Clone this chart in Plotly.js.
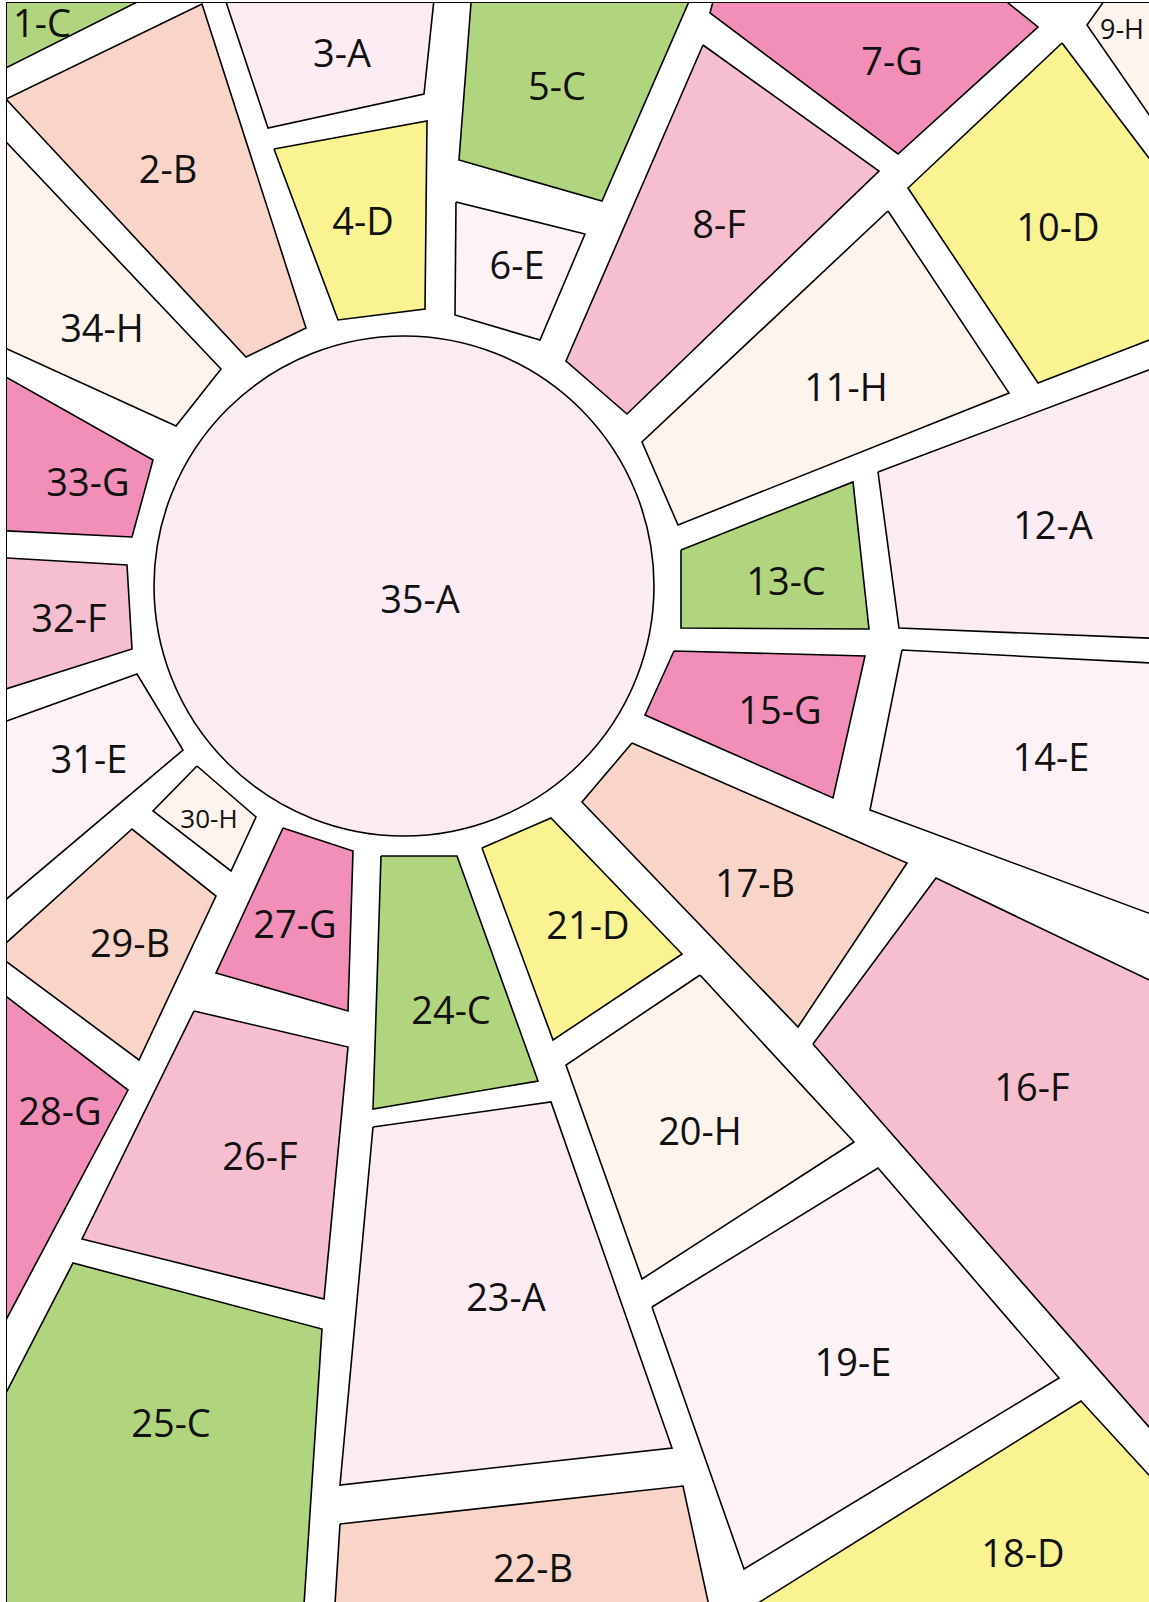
<!DOCTYPE html>
<html>
<head>
<meta charset="utf-8">
<script src="https://cdn.plot.ly/plotly-3.0.1.min.js"></script>
<style>html,body{margin:0;padding:0;background:#fff;}#chart{width:1149px;height:1602px;}</style>
</head>
<body>
<div id="chart"></div>
<script>
// ---- data ----
const regionLabels = ['1-C','2-B','3-A','4-D','5-C','6-E','7-G','8-F','9-H','10-D','11-H','12-A','13-C','14-E','15-G','16-F','17-B','18-D','19-E','20-H','21-D','22-B','23-A','24-C','25-C','26-F','27-G','28-G','29-B','30-H','31-E','32-F','33-G','34-H'];
const regionGroups = ['C','B','A','D','C','E','G','F','H','D','H','A','C','E','G','F','B','D','E','H','D','B','A','C','C','F','G','G','B','H','E','F','G','H'];
const polyX = [
  [-10,161,-10],
  [6,202,306,246],
  [222,435,424,268],
  [274,427,425,338],
  [472,694,602,459],
  [456,585,540,455],
  [716,710,898,1038,992],
  [703,879,627,566],
  [1112,1087,1170,1170],
  [1062,1170,1170,1038,908],
  [888,1009,678,642],
  [878,1170,1170,899],
  [681,853,869,681],
  [902,1170,1170,870],
  [674,865,833,645],
  [813,936,1170,1170],
  [632,907,798,582],
  [731,1081,1170,1170],
  [652,878,1059,744],
  [700,854,642,566],
  [482,551,682,553],
  [340,683,712,334],
  [373,551,672,340],
  [381,457,538,373],
  [-10,73,322,303,-10],
  [194,348,324,82],
  [283,353,348,216],
  [-10,128,-10],
  [-5,132,216,139],
  [197,256,231,153],
  [-10,137,183,-10],
  [-10,127,132,-10],
  [-10,153,132,-10],
  [-10,221,176,-10]
];
const polyY = [
  [-10,-10,76],
  [99,4,328,357],
  [-10,-10,94,128],
  [149,121,309,320],
  [-10,-10,201,160],
  [202,234,340,315],
  [-10,13,154,27,-10],
  [45,171,414,361],
  [-10,25,145,-10],
  [43,186,332,383,188],
  [211,393,525,442],
  [472,362,639,628],
  [550,482,629,628],
  [650,664,921,810],
  [651,656,798,715],
  [1044,878,990,1451],
  [743,863,1027,802],
  [1620,1401,1498,1620],
  [1307,1168,1378,1569],
  [975,1142,1279,1065],
  [848,818,954,1040],
  [1524,1486,1620,1620],
  [1127,1102,1448,1485],
  [856,856,1081,1109],
  [1424,1263,1329,1620,1620],
  [1011,1047,1299,1239],
  [828,851,1011,973],
  [984,1090,1350],
  [953,829,896,1060],
  [766,817,871,811],
  [727,674,750,913],
  [557,565,649,694],
  [368,460,537,530],
  [125,369,426,341]
];
const labelX = [42,168,342,363,557,517,892,719,1122,1058,846,1053,786,1051,780,1032,755,1023,853,700,588,533,506,451,171,260,295,60,130,209,89,69,88,102];
const labelY = [27,173,57,225,90,269,65,228,32,231,391,529,585,761,714,1091,887,1557,1366,1135,929,1572,1301,1014,1427,1160,928,1115,947,821,763,622,486,332];

const circleLabel = '35-A';
const circleGroup = 'A';
const circleCenterX = 404;
const circleCenterY = 586;
const circleRadius = 250;
const circleLabelX = 420;
const circleLabelY = 603;

// ---- styles ----
const groupColors = {
  A:'#FBEBF2', B:'#F9D4C8', C:'#B1D57F', D:'#F9F392',
  E:'#FDF2F6', F:'#F6BFCF', G:'#F18FB9', H:'#FEF4EE'
};
const smallLabels = {'30-H':26, '9-H':27};
const baseFontSize = 38;

const traces = [];
for (let i = 0; i < regionLabels.length; i++) {
  const xs = polyX[i].concat([polyX[i][0]]);
  const ys = polyY[i].concat([polyY[i][0]]);
  traces.push({
    type:'scatter', mode:'lines', x: xs, y: ys,
    fill:'toself', fillcolor: groupColors[regionGroups[i]],
    line:{color:'#000', width:1.6},
    hoverinfo:'skip', showlegend:false
  });
}
const allLabels = regionLabels.concat([circleLabel]);
traces.push({
  type:'scatter', mode:'text',
  x: labelX.concat([circleLabelX]),
  y: labelY.concat([circleLabelY]),
  text: allLabels,
  textposition:'middle center',
  textfont:{
    family:'"Open Sans", "Noto Sans", sans-serif',
    color:'#111',
    size: allLabels.map(l => smallLabels[l] || baseFontSize)
  },
  hoverinfo:'skip', showlegend:false, cliponaxis:false
});

const layout = {
  width:1149, height:1602,
  margin:{l:7, r:0, t:3, b:0, pad:0},
  paper_bgcolor:'#fff', plot_bgcolor:'#fff',
  showlegend:false,
  xaxis:{range:[7,1149], side:'top', showline:true, linecolor:'#000', linewidth:1.5,
         showgrid:false, zeroline:false, showticklabels:false, ticks:'', fixedrange:true},
  yaxis:{range:[1602,3], showline:true, linecolor:'#000', linewidth:1.5,
         showgrid:false, zeroline:false, showticklabels:false, ticks:'', fixedrange:true},
  shapes:[{
    type:'circle', xref:'x', yref:'y', layer:'below',
    x0: circleCenterX - circleRadius, x1: circleCenterX + circleRadius,
    y0: circleCenterY - circleRadius, y1: circleCenterY + circleRadius,
    fillcolor: groupColors[circleGroup], line:{color:'#000', width:1.6}
  }]
};

Plotly.newPlot('chart', traces, layout, {displayModeBar:false, staticPlot:true});
</script>
</body>
</html>
